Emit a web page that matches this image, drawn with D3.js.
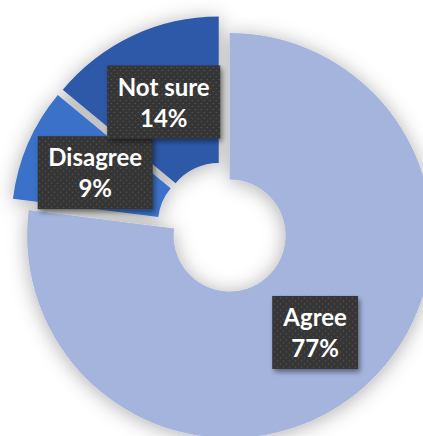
<!DOCTYPE html>
<html><head><meta charset="utf-8">
<script src="https://cdn.jsdelivr.net/npm/d3@7"></script>
<style>body{margin:0;background:#fff}svg{display:block}</style>
</head><body>
<svg id="chart" width="423" height="436"></svg>
<script>
// Survey response shares
const categories = ["Agree", "Disagree", "Not sure"];
const values = [77, 9, 14];
const valueLabels = ["77%", "9%", "14%"];
const colors = ["#a4b4dc", "#3a71c8", "#2d59a8"];

const W = 423, H = 436;
const cx = 223, cy = 228, outerR = 202.5, innerR = 56, explode = 10;

const svg = d3.select("#chart");
const defs = svg.append("defs");

// soft shadow around the ring
const ringShadow = defs.append("filter").attr("id", "ringShadow")
  .attr("x", "-25%").attr("y", "-25%").attr("width", "150%").attr("height", "150%");
ringShadow.append("feDropShadow").attr("dx", 0).attr("dy", 2)
  .attr("stdDeviation", 10).attr("flood-color", "#000").attr("flood-opacity", 0.32);

// shadow under the label boxes
const labelShadow = defs.append("filter").attr("id", "labelShadow")
  .attr("x", "-20%").attr("y", "-20%").attr("width", "150%").attr("height", "150%");
labelShadow.append("feDropShadow").attr("dx", 2).attr("dy", 3)
  .attr("stdDeviation", 2.5).attr("flood-color", "#000").attr("flood-opacity", 0.45);

// dotted dark fill for the label boxes
const dots = defs.append("pattern").attr("id", "dots")
  .attr("width", 6).attr("height", 6).attr("patternUnits", "userSpaceOnUse");
dots.append("rect").attr("width", 6).attr("height", 6).attr("fill", "#353535");
dots.append("circle").attr("cx", 1.5).attr("cy", 1.5).attr("r", 0.7).attr("fill", "#595959");
dots.append("circle").attr("cx", 4.5).attr("cy", 4.5).attr("r", 0.7).attr("fill", "#595959");

const pie = d3.pie().sort(null).value(d => d)(values);
const arc = d3.arc().innerRadius(innerR).outerRadius(outerR);

// each slice is pulled out along its bisector
function offset(d) {
  const a = (d.startAngle + d.endAngle) / 2;
  return [Math.sin(a) * explode, -Math.cos(a) * explode];
}

const g = svg.append("g").attr("transform", `translate(${cx},${cy})`);

g.append("g").attr("filter", "url(#ringShadow)")
  .selectAll("path").data(pie).join("path")
  .attr("d", arc)
  .attr("fill", (d, i) => colors[i])
  .attr("transform", d => `translate(${offset(d)})`);

// data labels centred on each slice
const labels = g.append("g").selectAll("g").data(pie).join("g")
  .attr("transform", d => {
    const o = offset(d), c = arc.centroid(d);
    return `translate(${o[0] + c[0]},${o[1] + c[1]})`;
  });

const box = labels.append("rect")
  .attr("fill", "url(#dots)")
  .attr("filter", "url(#labelShadow)");

const text = labels.append("text")
  .attr("text-anchor", "middle")
  .attr("fill", "#fff")
  .style("font-family", "Lato, 'Open Sans', sans-serif")
  .style("font-weight", 700)
  .style("font-size", "24px");
text.append("tspan").attr("x", 0).attr("y", -6.5).text((d, i) => categories[i]);
text.append("tspan").attr("x", 0).attr("y", 24.5).text((d, i) => valueLabels[i]);

box.each(function (d, i) {
  const w = text.nodes()[i].getBBox().width + 21;
  const h = 73;
  d3.select(this).attr("x", -w / 2).attr("y", -h / 2).attr("width", w).attr("height", h);
});
</script>
</body></html>
